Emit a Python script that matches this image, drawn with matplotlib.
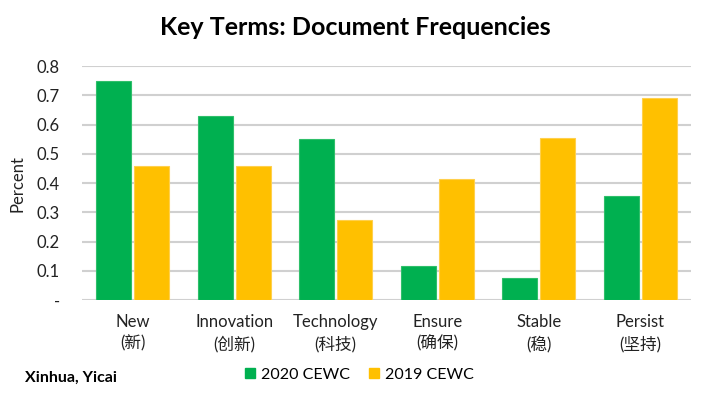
import numpy as np
import matplotlib.pyplot as plt
from matplotlib.patches import Patch

terms   = ['New\n(新)', 'Innovation\n(创新)', 'Technology\n(科技)',
           'Ensure\n(确保)', 'Stable\n(稳)', 'Persist\n(坚持)']
cewc_20 = [0.75, 0.63, 0.55, 0.115, 0.075, 0.355]
cewc_19 = [0.46, 0.46, 0.275, 0.413, 0.555, 0.69]
y_ticks = [0, 0.1, 0.2, 0.3, 0.4, 0.5, 0.6, 0.7, 0.8]
y_labels = ['-', '0.1', '0.2', '0.3', '0.4', '0.5', '0.6', '0.7', '0.8']

green  = '#00B050'
yellow = '#FFC000'

plt.rcParams['font.family'] = ['Lato', 'Noto Sans CJK SC', 'DejaVu Sans']

fig = plt.figure(figsize=(7.11, 3.98), dpi=100)
ax  = fig.add_axes([0.1153, 0.246, 0.8565, 0.588])

x = np.arange(len(terms))
w = 0.345
ax.bar(x - w/2 - 0.015, cewc_20, w, color=green, edgecolor='#2fbf6a', linewidth=0.8, zorder=3)
ax.bar(x + w/2 + 0.015, cewc_19, w, color=yellow, edgecolor='#ffd04d', linewidth=0.8, zorder=3)

ax.set_xlim(-0.5, len(terms) - 0.5)
ax.set_ylim(0, 0.8)
ax.set_yticks(y_ticks)
ax.set_yticklabels(y_labels, fontsize=12, color='#222222')
ax.set_xticks(x)
ax.set_xticklabels(terms, fontsize=12, color='#222222', linespacing=1.4)
ax.tick_params(axis='y', length=0, pad=16)
ax.tick_params(axis='x', length=0, pad=10)
ax.grid(axis='y', color='#d0d0d0', linewidth=1.5, zorder=0)
for s in ax.spines.values():
    s.set_visible(False)

ax.set_ylabel('Percent', fontsize=12, color='#222222', labelpad=8)

fig.text(0.5, 0.93, 'Key Terms: Document Frequencies', ha='center', va='center',
         fontsize=18, fontweight='bold')
fig.text(0.035, 0.05, 'Xinhua, Yicai', ha='left', va='center',
         fontsize=11.5, fontweight='bold')

handles = [Patch(color=green, label='2020 CEWC'), Patch(color=yellow, label='2019 CEWC')]
fig.legend(handles=handles, loc='center', bbox_to_anchor=(0.506, 0.058), ncol=2,
           frameon=False, fontsize=11.5, handlelength=0.6, handleheight=0.6,
           handletextpad=0.4, columnspacing=1.2)

fig.savefig('out.png', dpi=100)
